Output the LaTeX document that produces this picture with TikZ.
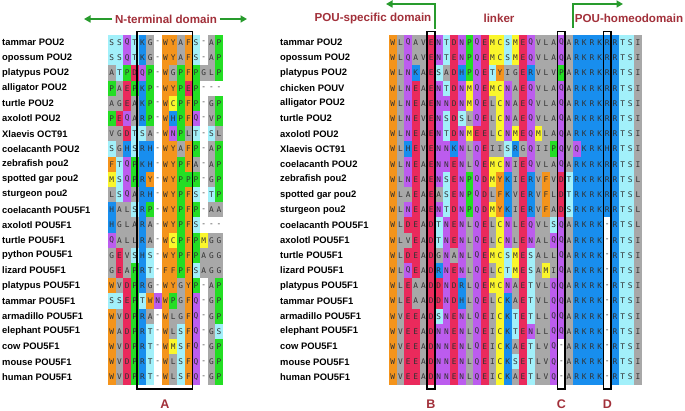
\documentclass[tikz,border=0pt]{standalone}
\usepackage{fontspec}
\setmainfont{Liberation Sans}
\newfontfamily\resfont{DejaVu Sans Mono}
\usetikzlibrary{arrows.meta}
\definecolor{cOr}{RGB}{244,148,28}
\definecolor{cGy}{RGB}{168,168,168}
\definecolor{cPu}{RGB}{188,92,238}
\definecolor{cRd}{RGB}{234,42,92}
\definecolor{cBl}{RGB}{24,142,238}
\definecolor{cCy}{RGB}{162,240,250}
\definecolor{cGn}{RGB}{36,222,36}
\definecolor{cYe}{RGB}{250,246,44}
\definecolor{cTitle}{RGB}{162,48,58}
\definecolor{cArr}{RGB}{40,155,45}
\definecolor{cTxt}{RGB}{50,50,50}
\colorlet{resW}{cOr}\colorlet{resF}{cOr}\colorlet{resY}{cOr}
\colorlet{resL}{cGy}\colorlet{resA}{cGy}\colorlet{resV}{cGy}\colorlet{resI}{cGy}\colorlet{resG}{cGy}
\colorlet{resQ}{cPu}\colorlet{resN}{cPu}
\colorlet{resE}{cRd}\colorlet{resD}{cRd}
\colorlet{resK}{cBl}\colorlet{resR}{cBl}\colorlet{resH}{cBl}
\colorlet{resS}{cCy}\colorlet{resT}{cCy}
\colorlet{resP}{cGn}
\colorlet{resM}{cYe}\colorlet{resC}{cYe}
\newcount\cidx
\def\cw{7.66}\def\rh{15.2}\def\ytop{35}
\def\rowseq#1#2#3#4{\cidx=0 \def\curx{#1}\def\currow{#2}\def\pfx{#3}\expandafter\seqloop#4\relax}
\def\seqloop#1{\ifx#1\relax\else\drawcell#1\advance\cidx by 1 \expandafter\seqloop\fi}
\def\drawcell#1{%
  \pgfmathsetmacro\cx{\curx+\the\cidx*\cw}%
  \pgfmathsetmacro\cy{\ytop+(\currow-1)*\rh}%
  \ifx#1-\else\fill[res#1] (\cx pt,-\cy pt) rectangle ++(\cw pt,-\rh pt);\fi
  \node[resl] (\pfx\currow c\the\cidx) at (\cx pt+0.5*\cw pt,-\cy pt-0.5*\rh pt) {#1};}
\tikzset{
  resl/.style={font=\resfont\fontsize{7.8}{8}\selectfont, text=cTxt, inner sep=0pt, anchor=center},
  lab/.style={font=\fontsize{9.4}{11}\selectfont\bfseries, anchor=west, inner sep=0pt},
  ttl/.style={font=\fontsize{11.6}{13}\selectfont\bfseries, text=cTitle, inner sep=2.5pt},
  lett/.style={font=\fontsize{12.5}{14}\selectfont\bfseries, text=cTitle, inner sep=0pt},
  garr/.style={draw=cArr, line width=1.8pt, -{Triangle[length=6.5pt,width=7pt]}},
  boxl/.style={draw=black, line width=1.8pt}
}
\begin{document}
\begin{tikzpicture}[x=1pt,y=1pt]
\useasboundingbox[fill=white] (0,0) rectangle (685,-411);
% left block
\foreach \s [count=\i] in {SSQTKG-WYAFS-AP,SSQTKG-WYAFS-AP,ATPDQP-WGPFPGLP,PAEPKP-WYPEP---,AGEAKP-WCPFP-GP,PEQARP-WHPFQ-VP,VGDTSA-WNPLT-SL,SGHSRH-WYAFP-AP,FTQPKH-WYPFA-AP,MSQPRY-WYPPP-GP,LSQARH-WYPFS-TP,HALSRP-WYPFP-AA,HGLARA-WYPFS---,QALLRA-WCPFPMGG,GEVSHS-WYPFPAGG,GEAPRT-FFPFSAGG,WVDPRG-WYGYP-AP,SSEPTWNWPGFQ-GP,WVDPRA-WLGFQ-GP,WADPRT-WLSFQ-GS,WVDPRT-WMSFQ-GP,WVDPRT-WLSFQ-GP,WVDPRT-WLSFQ-GP}
  {\rowseq{108}{\i}{L}{\s}}
% right block
\foreach \s [count=\i] in {WLQAVENTDNPQEMCSMEQVLAQARKRKRRTSI,WLQAVENTENPQEMCSMEQVLAQARKRKRRTSI,WLNKAESADHPQETYIGERVLVPARKRKRRTSI,WLNEAENTDNMQEMCNAEQVLAQARKRKRRTSI,WLNEAENNDNMQELCNAEQVLAQARKRKRRTSI,WLNEVENSDSLQELCNAEQVLAQARKRKRRTSI,WLNEAENTDNMEELCNMEQMLAQARKRKRRTSI,WLHEVENNKNLQEIISRGQIIPQVQKRKHRTSI,WLNEAENNENLQEMCNIEQVLAQARKRKRRTSI,WLNEAENSENPQDMYKIERVFVDTRKRKRRTSL,WLAEAEASENPQDLFKVERVFLDTRKRKRRTSL,WLNEAENTDNPQDMYKIERVFADSRKRKRRTSL,WLDEADTNENLQELCNLEQVLSQARKRK-RTSL,WLVEADTNENLQELCNLENALQQARKRK-RTSI,WLDEADGNANLQEMCSMESALLQARKRK-RTSI,WLQEADRNENLQELCTMESAMIQARKRK-RTSI,WLEAADDNDRLQEMCNAETVLQQARKRK-RTSI,WLEAADDNDHLQELCKAETVLQQARKRK-RTSI,WVEEADSNENLQEICKTETLLQQARKRK-RTSI,WVEEADNNENLQEICKTENLLQQARKRK-RTSI,WVEEADNNENLQEICKAETLVQ-ARKRK-RTSI,WVEEADNNENLQEICKSETLVQ-ARKRK-RTSI,WVEEADNNENLQEICKAETLVQ-ARKRK-RTSI}
  {\rowseq{389}{\i}{R}{\s}}
% left labels
\foreach \t [count=\i] in {tammar POU2,opossum POU2,platypus POU2,alligator POU2,turtle POU2,axolotl POU2,Xlaevis OCT91,coelacanth POU2,zebrafish pou2,spotted gar pou2,sturgeon pou2,coelacanth POU5F1,axolotl POU5F1,turtle POU5F1,python POU5F1,lizard POU5F1,platypus POU5F1,tammar POU5F1,armadillo POU5F1,elephant POU5F1,cow POU5F1,mouse POU5F1,human POU5F1}
  {\node[lab] (nl\i) at (2,{-42.6-(\i-1)*15.2}) {\t};}
\foreach \t [count=\i] in {tammar POU2,opossum POU2,platypus POU2,chicken POUV,alligator POU2,turtle POU2,axolotl POU2,Xlaevis OCT91,coelacanth POU2,zebrafish pou2,spotted gar pou2,sturgeon pou2,coelacanth POU5F1,axolotl POU5F1,turtle POU5F1,lizard POU5F1,platypus POU5F1,tammar POU5F1,armadillo POU5F1,elephant POU5F1,cow POU5F1,mouse POU5F1,human POU5F1}
  {\node[lab] (nr\i) at (280,{-42.6-(\i-1)*15.2}) {\t};}
% boxes
\draw[boxl] (137.2,-31.5) rectangle (192.4,-389);
\draw[boxl] (427.3,-31.5) rectangle (435,-389);
\draw[boxl] (557.5,-31.5) rectangle (565.2,-389);
\draw[boxl] (603.5,-31.5) rectangle (611.1,-389);
\node[lett] (lA) at (165,-404) {A};
\node[lett] (lB) at (431,-404) {B};
\node[lett] (lC) at (561.4,-404) {C};
\node[lett] (lD) at (607.3,-404) {D};
% headers
\node[ttl] (nterm) at (166,-19) {N-terminal domain};
\coordinate (ntL) at (84,-19);
\coordinate (ntR) at (247,-19);
\draw[garr] (nterm.west) -- (ntL);
\draw[garr] (nterm.east) -- (ntR);
\node[ttl] (psd) at (373,-18.5) {POU-specific domain};
\node[ttl] (lnk) at (499,-18.5) {linker};
\node[ttl] (hd) at (629,-18.5) {POU-homeodomain};
\coordinate (b1) at (435,-29);
\coordinate (b1t) at (386,-4);
\draw[garr] (b1) |- (b1t);
\coordinate (b2) at (572.7,-28);
\coordinate (b2t) at (623,-4);
\draw[garr] (b2) |- (b2t);
\end{tikzpicture}
\end{document}
